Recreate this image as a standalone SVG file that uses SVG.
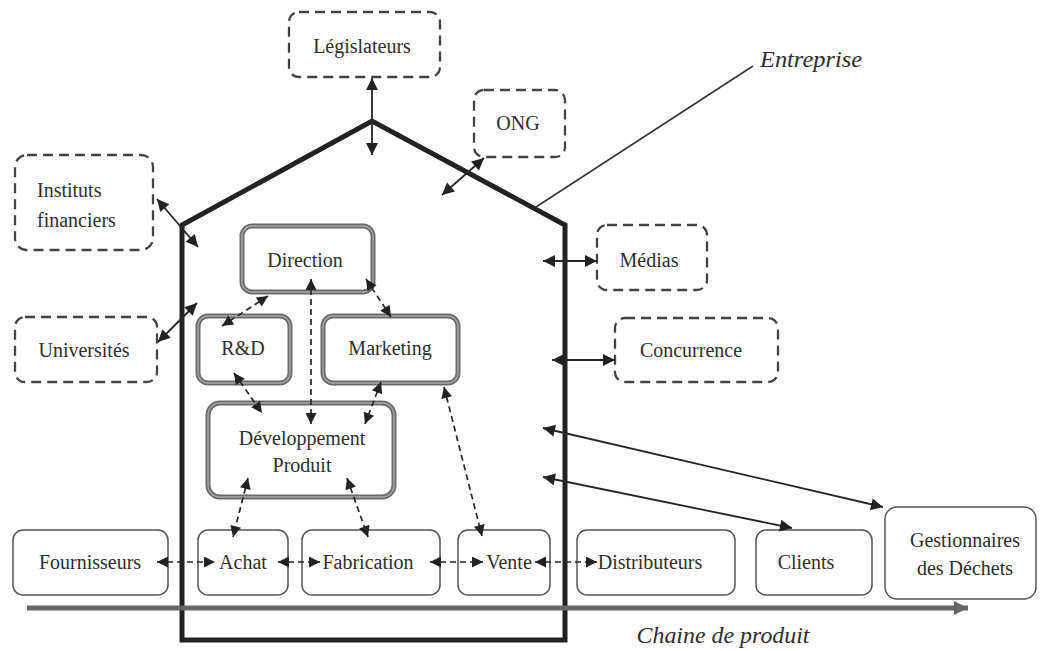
<svg xmlns="http://www.w3.org/2000/svg" width="1041" height="651" viewBox="0 0 1041 651" font-family="'Liberation Serif', 'Times New Roman', 'DejaVu Serif', serif">
  <style>
    text { font-family: 'Liberation Serif', 'Times New Roman', 'DejaVu Serif', serif; font-size: 20px; fill: #2e2e2e; }
    .it { font-style: italic; font-size: 24px; }
    .ext { fill: #fff; stroke: #444; stroke-width: 2.3; stroke-dasharray: 10 6; }
    .dept { fill: #fff; stroke: #6a6a6a; stroke-width: 5; }
    .dept-in { fill: none; stroke: #a8a8a8; stroke-width: 1.4; }
    .chain { fill: #fff; stroke: #555; stroke-width: 1.5; }
    .solid { fill: none; stroke: #262626; stroke-width: 1.8; marker-start: url(#ah); marker-end: url(#ah); }
    .dash { fill: none; stroke: #262626; stroke-width: 1.7; stroke-dasharray: 6 4; marker-start: url(#ahs); marker-end: url(#ahs); }
  </style>
  <defs>
    <marker id="ah" viewBox="0 0 10 10" refX="10" refY="5" markerWidth="15" markerHeight="12" markerUnits="userSpaceOnUse" orient="auto-start-reverse">
      <path d="M0,0 L10,5 L0,10 z" fill="#222"/>
    </marker>
    <marker id="ahs" viewBox="0 0 10 10" refX="10" refY="5" markerWidth="13" markerHeight="11" markerUnits="userSpaceOnUse" orient="auto-start-reverse">
      <path d="M0,0 L10,5 L0,10 z" fill="#222"/>
    </marker>
    <marker id="chainhead" viewBox="0 0 10 10" refX="10" refY="5" markerWidth="14" markerHeight="15" markerUnits="userSpaceOnUse" orient="auto">
      <path d="M0,0 L10,5 L0,10 z" fill="#666"/>
    </marker>
  </defs>

  <!-- company outline (house) -->
  <g id="entreprise">
    <path d="M182,640 L182,225 L372,121 L565,225 L565,640 Z" fill="none" stroke="#222" stroke-width="5" stroke-linejoin="miter"/>
    <line x1="536" y1="207" x2="753" y2="66" stroke="#333" stroke-width="1.5"/>
    <text class="it" x="811" y="67" text-anchor="middle" textLength="102" lengthAdjust="spacingAndGlyphs">Entreprise</text>
  </g>

  <!-- product chain axis -->
  <g id="chaine">
    <line x1="27" y1="608" x2="968" y2="608" stroke="#666" stroke-width="5" marker-end="url(#chainhead)"/>
    <text class="it" x="723" y="643" text-anchor="middle" textLength="173" lengthAdjust="spacingAndGlyphs">Chaine de produit</text>
  </g>

  <!-- external stakeholders -->
  <g id="legislateurs">
    <rect class="ext" x="289" y="12" width="151" height="65" rx="10"/>
    <text x="362" y="53" text-anchor="middle">Législateurs</text>
  </g>
  <g id="ong">
    <rect class="ext" x="474" y="90" width="91" height="67" rx="10"/>
    <text x="518" y="130" text-anchor="middle">ONG</text>
  </g>
  <g id="instituts">
    <rect class="ext" x="15" y="155" width="138" height="95" rx="12"/>
    <text x="37" y="197">Instituts</text>
    <text x="37" y="227">financiers</text>
  </g>
  <g id="universites">
    <rect class="ext" x="15" y="317" width="142" height="65" rx="10"/>
    <text x="84" y="357" text-anchor="middle">Universités</text>
  </g>
  <g id="medias">
    <rect class="ext" x="597" y="225" width="110" height="65" rx="10"/>
    <text x="649" y="267" text-anchor="middle">Médias</text>
  </g>
  <g id="concurrence">
    <rect class="ext" x="615" y="318" width="163" height="64" rx="10"/>
    <text x="691" y="357" text-anchor="middle">Concurrence</text>
  </g>

  <!-- internal departments -->
  <g id="direction">
    <rect class="dept" x="242" y="226" width="131" height="66" rx="10"/>
    <rect class="dept-in" x="242" y="226" width="131" height="66" rx="10"/>
    <text x="305" y="267" text-anchor="middle">Direction</text>
  </g>
  <g id="rd">
    <rect class="dept" x="198" y="316" width="92" height="67" rx="10"/>
    <rect class="dept-in" x="198" y="316" width="92" height="67" rx="10"/>
    <text x="243" y="355" text-anchor="middle">R&amp;D</text>
  </g>
  <g id="marketing">
    <rect class="dept" x="323" y="316" width="135" height="67" rx="10"/>
    <rect class="dept-in" x="323" y="316" width="135" height="67" rx="10"/>
    <text x="390" y="355" text-anchor="middle">Marketing</text>
  </g>
  <g id="developpement">
    <rect class="dept" x="208" y="403" width="186" height="94" rx="12"/>
    <rect class="dept-in" x="208" y="403" width="186" height="94" rx="12"/>
    <text x="302" y="445" text-anchor="middle">Développement</text>
    <text x="302" y="472" text-anchor="middle">Produit</text>
  </g>

  <!-- product chain stages -->
  <g id="fournisseurs">
    <rect class="chain" x="13" y="530" width="155" height="65" rx="10"/>
    <text x="90" y="569" text-anchor="middle">Fournisseurs</text>
  </g>
  <g id="achat">
    <rect class="chain" x="198" y="530" width="90" height="65" rx="10"/>
    <text x="243" y="569" text-anchor="middle">Achat</text>
  </g>
  <g id="fabrication">
    <rect class="chain" x="302" y="530" width="138" height="65" rx="10"/>
    <text x="368" y="569" text-anchor="middle">Fabrication</text>
  </g>
  <g id="vente">
    <rect class="chain" x="458" y="530" width="92" height="65" rx="10"/>
    <text x="509" y="569" text-anchor="middle">Vente</text>
  </g>
  <g id="distributeurs">
    <rect class="chain" x="577" y="530" width="158" height="65" rx="10"/>
    <text x="650" y="569" text-anchor="middle">Distributeurs</text>
  </g>
  <g id="clients">
    <rect class="chain" x="756" y="530" width="116" height="65" rx="10"/>
    <text x="806" y="569" text-anchor="middle">Clients</text>
  </g>
  <g id="gestionnaires">
    <rect class="chain" x="885" y="507" width="151" height="92" rx="12"/>
    <text x="965" y="547" text-anchor="middle">Gestionnaires</text>
    <text x="965" y="575" text-anchor="middle">des Déchets</text>
  </g>

  <!-- connectors -->
  <g id="connectors">
    <!-- external exchanges -->
    <line class="solid" x1="372" y1="78" x2="372" y2="155"/>
    <line class="solid" x1="442" y1="195" x2="484" y2="158"/>
    <line class="solid" x1="157" y1="199" x2="198" y2="247"/>
    <line class="solid" x1="158" y1="342" x2="197" y2="303"/>
    <line class="solid" x1="543" y1="261" x2="597" y2="261"/>
    <line class="solid" x1="552" y1="360" x2="615" y2="360"/>
    <line class="solid" x1="543" y1="428" x2="883" y2="507"/>
    <line class="solid" x1="543" y1="477" x2="792" y2="528"/>

    <!-- internal flows -->
    <line class="dash" x1="268" y1="296" x2="222" y2="326"/>
    <line class="dash" x1="311" y1="279" x2="311" y2="424"/>
    <line class="dash" x1="366" y1="279" x2="391" y2="317"/>
    <line class="dash" x1="234" y1="373" x2="262" y2="413"/>
    <line class="dash" x1="381" y1="382" x2="365" y2="424"/>
    <line class="dash" x1="444" y1="387" x2="482" y2="536"/>
    <line class="dash" x1="248" y1="478" x2="233" y2="537"/>
    <line class="dash" x1="347" y1="478" x2="368" y2="537"/>

    <!-- chain links -->
    <line class="dash" x1="157" y1="562" x2="215" y2="562"/>
    <line class="dash" x1="278" y1="562" x2="320" y2="562"/>
    <line class="dash" x1="430" y1="562" x2="483" y2="562"/>
    <line class="dash" x1="535" y1="562" x2="597" y2="562"/>
  </g>
</svg>
